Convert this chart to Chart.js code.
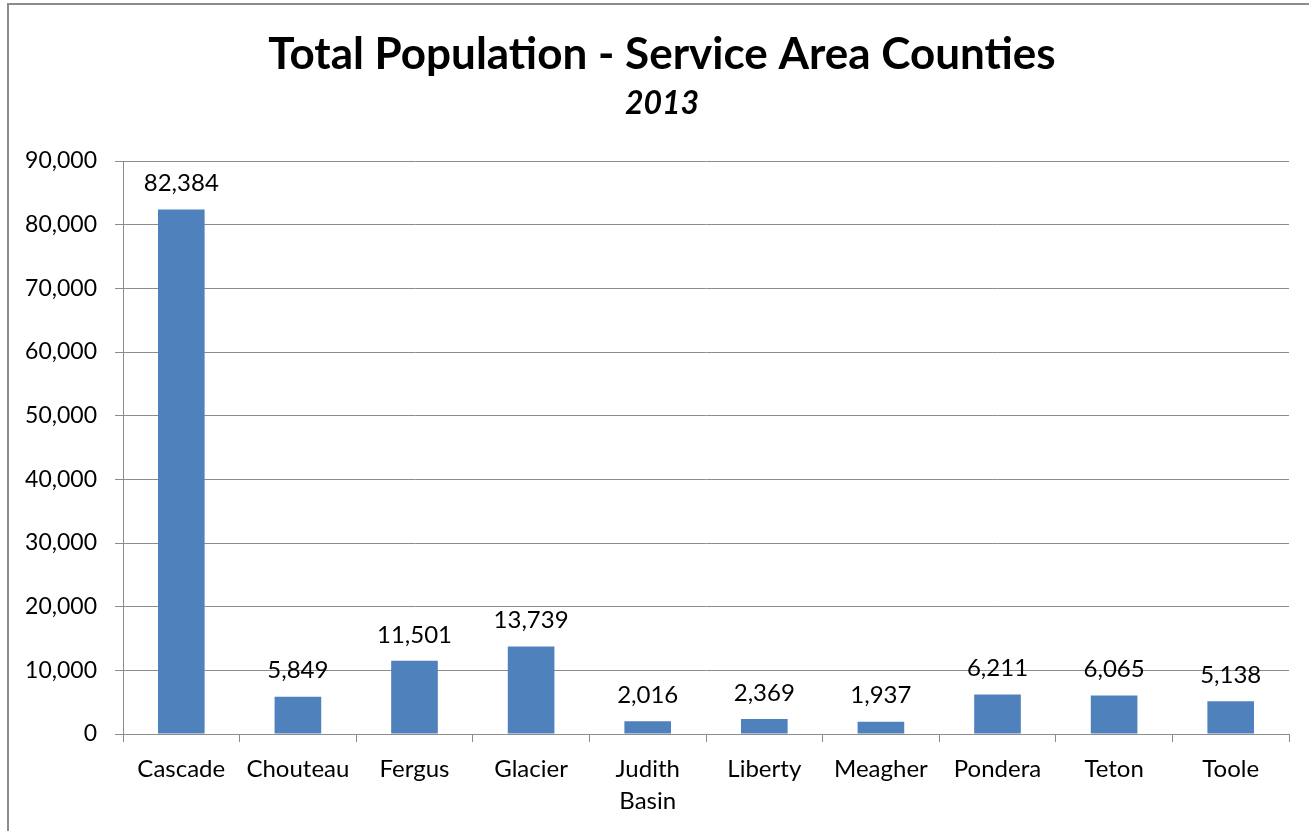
<!DOCTYPE html>
<html>
<head>
<meta charset="utf-8">
<script src="https://cdn.jsdelivr.net/npm/chart.js@4"></script>
<style>
  html, body { margin:0; padding:0; background:#fff; }
  #wrap { position:absolute; left:0; top:0; width:1309px; height:831px; }
  #frame { position:absolute; left:7px; top:3px; width:1310px; height:840px; border:2px solid #8c8c8c; box-sizing:border-box; pointer-events:none; }
</style>
</head>
<body>
<div id="wrap"><canvas id="c" width="1309" height="831"></canvas></div>
<div id="frame"></div>
<script>
const categories = ["Cascade","Chouteau","Fergus","Glacier",["Judith","Basin"],"Liberty","Meagher","Pondera","Teton","Toole"];
const population = [82384, 5849, 11501, 13739, 2016, 2369, 1937, 6211, 6065, 5138];
const titleText = "Total Population - Service Area Counties";
const subtitleText = "2013";
const FONT = "Lato, 'Open Sans', 'DejaVu Sans', sans-serif";

const dataLabels = {
  id: 'dataLabels',
  afterDatasetsDraw(chart) {
    const ctx = chart.ctx;
    const meta = chart.getDatasetMeta(0);
    ctx.save();
    ctx.font = "24px " + FONT;
    ctx.fillStyle = "#000";
    ctx.textAlign = "center";
    ctx.textBaseline = "middle";
    meta.data.forEach((bar, i) => {
      ctx.fillText(population[i].toLocaleString('en-US'), bar.x, bar.y - 26);
    });
    ctx.restore();
  }
};

const titles = {
  id: 'titles',
  afterDraw(chart) {
    const ctx = chart.ctx;
    ctx.save();
    ctx.fillStyle = "#000";
    ctx.textAlign = "center";
    ctx.textBaseline = "middle";
    ctx.font = "bold 44px " + FONT;
    ctx.fillText(titleText, 662, 55);
    ctx.font = "italic bold 32px " + FONT;
    ctx.fillText(subtitleText, 662, 104);
    ctx.restore();
  }
};

new Chart(document.getElementById('c'), {
  type: 'bar',
  data: {
    labels: categories,
    datasets: [{
      data: population,
      backgroundColor: '#4F81BD',
      borderWidth: 0,
      barPercentage: 0.4,
      categoryPercentage: 1.0
    }]
  },
  options: {
    responsive: false,
    animation: false,
    devicePixelRatio: 1,
    layout: { padding: { top: 161, right: 20, bottom: 0, left: 0 } },
    plugins: { legend: { display: false }, tooltip: { enabled: false }, title: { display: false } },
    scales: {
      y: {
        min: 0, max: 90000,
        ticks: {
          stepSize: 10000,
          color: '#000',
          font: { size: 23, family: FONT },
          padding: 18,
          callback: v => v.toLocaleString('en-US')
        },
        grid: { color: '#8c8c8c', lineWidth: 1, tickLength: 8, drawTicks: true },
        border: { color: '#8c8c8c', width: 1 },
        afterFit(s) { s.width = 123; }
      },
      x: {
        ticks: {
          color: '#000',
          font: { size: 24, family: FONT, lineHeight: 1.3 },
          padding: 12,
          maxRotation: 0, autoSkip: false
        },
        grid: { drawOnChartArea: false, drawTicks: true, tickLength: 8, color: '#8c8c8c', offset: true },
        border: { color: '#8c8c8c', width: 1 },
        afterFit(s) { s.height = 97; }
      }
    }
  },
  plugins: [dataLabels, titles]
});
</script>
</body>
</html>
